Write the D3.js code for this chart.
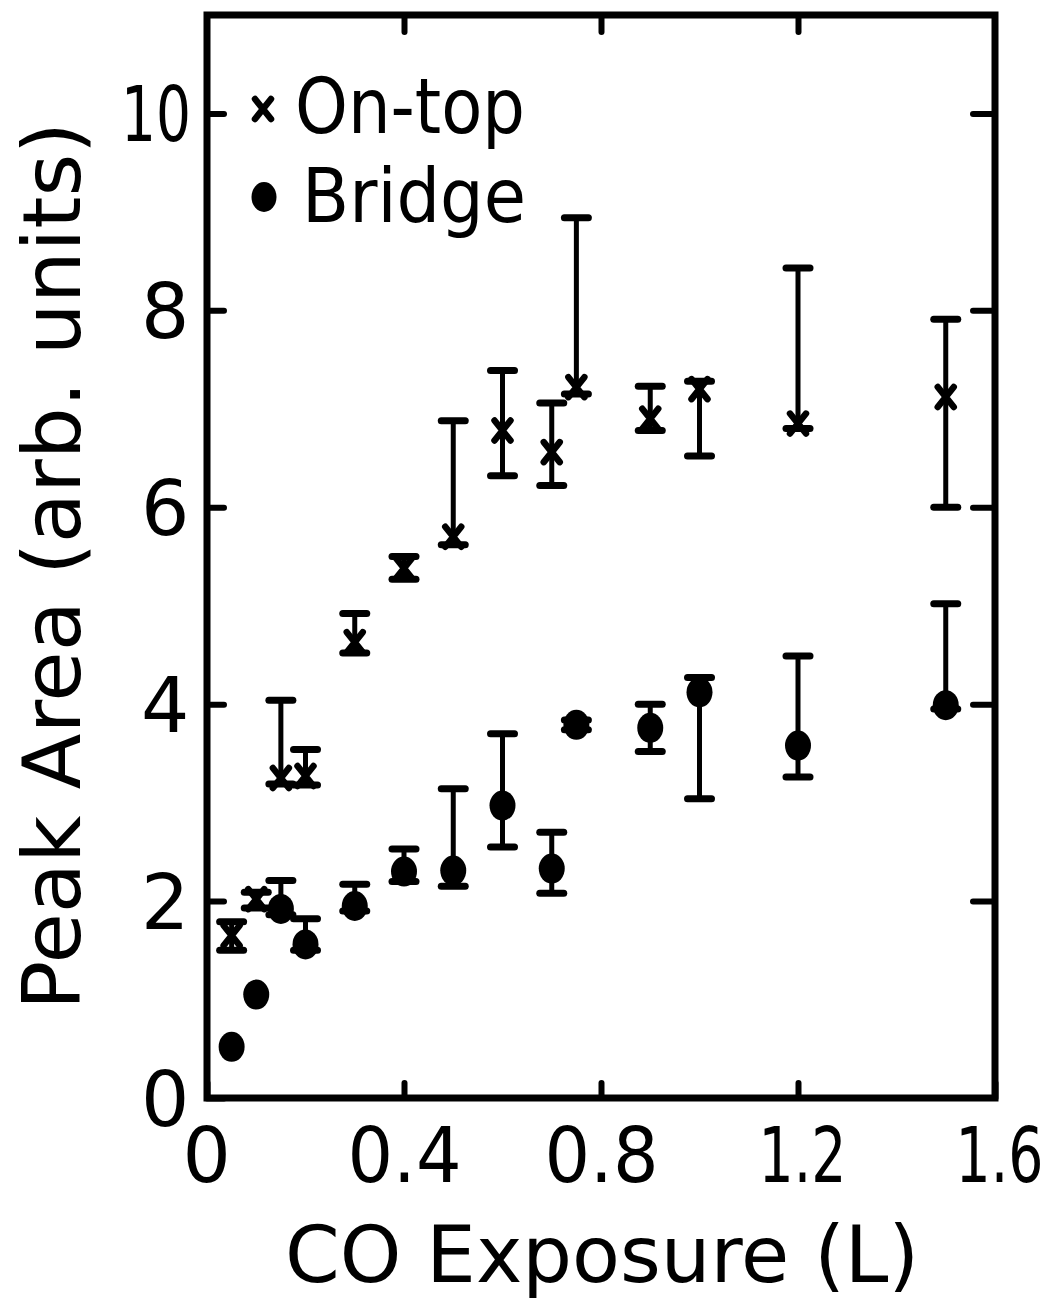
<!DOCTYPE html>
<html>
<head>
<meta charset="utf-8">
<script src="https://cdn.jsdelivr.net/npm/d3@7"></script>
<style>
  html, body { margin: 0; padding: 0; background: #fff; }
  svg { display: block; }
  text { font-family: "DejaVu Sans", "Liberation Sans", sans-serif; fill: #000; }
</style>
</head>
<body>
<svg id="chart" width="1053" height="1302"></svg>
<script>
// ---- data ----
const exposure = [0.05, 0.1, 0.15, 0.2, 0.3, 0.4, 0.5, 0.6, 0.7, 0.75, 0.9, 1.0, 1.2, 1.5];

const onTop   = [1.65, 2.02, 3.25, 3.27, 4.63, 5.38, 5.70, 6.78, 6.56, 7.22, 6.90, 7.20, 6.85, 7.12];
const onTopLo = [1.50, 1.93, 3.19, 3.18, 4.52, 5.27, 5.62, 6.32, 6.22, 7.15, 6.78, 6.52, 6.80, 6.00];
const onTopHi = [1.79, 2.09, 4.04, 3.54, 4.92, 5.50, 6.88, 7.39, 7.06, 8.94, 7.23, 7.28, 8.43, 7.91];

const bridge   = [0.52, 1.05, 1.92, 1.56, 1.95, 2.30, 2.31, 2.97, 2.33, 3.79, 3.76, 4.12, 3.58, 3.99];
const bridgeLo = [null, null, 1.86, 1.50, 1.90, 2.20, 2.15, 2.55, 2.08, 3.74, 3.52, 3.04, 3.26, 3.95];
const bridgeHi = [null, null, 2.21, 1.82, 2.17, 2.53, 3.14, 3.70, 2.70, 3.84, 4.00, 4.27, 4.49, 5.02];

const xTickValues = [0, 0.4, 0.8, 1.2, 1.6];
const xTickLabels = ["0", "0.4", "0.8", "1.2", "1.6"];
const yTickValues = [0, 2, 4, 6, 8, 10];
const yTickLabels = ["0", "2", "4", "6", "8", "10"];

const seriesNames = ["On-top", "Bridge"];
const xTitle = "CO Exposure (L)";
const yTitle = "Peak Area (arb. units)";

// ---- layout ----
const svg = d3.select("#chart");
const x = d3.scaleLinear().domain([0, 1.6]).range([207, 995]);
const y = d3.scaleLinear().domain([0, 11]).range([1098, 15]);

// narrow lettering: target width of each label
const labelWidth = s => {
  let w = 0;
  for (const c of s) w += (c === "1") ? 20 : (c === ".") ? 18 : 46;
  return w + 4;
};
const labelShift = s => (s.startsWith("1") ? 4 : 0);

// squeeze a text horizontally so that it spans `w` pixels starting at (x0, y0)
function squeeze(sel, x0fn, y0, wfn) {
  sel.each(function () {
    const t = d3.select(this);
    t.attr("text-anchor", "start").attr("x", 0).attr("y", 0).attr("dy", null);
    const nat = this.getComputedTextLength();
    const w = wfn(this.textContent);
    const s = Math.min(1, w / nat);
    t.attr("transform", `translate(${x0fn(this.textContent, w)},${y0}) scale(${s},1)`);
  });
}

// ---- axes (inward ticks) ----
const tickStyle = g => {
  g.select(".domain").remove();
  g.selectAll(".tick line").attr("stroke", "#000").attr("stroke-width", 6).attr("stroke-linecap", "round");
};

svg.append("g").attr("transform", `translate(${x(0)},0)`)
  .call(d3.axisLeft(y).tickValues(yTickValues).tickSize(-17).tickFormat((d, i) => yTickLabels[i]))
  .call(tickStyle)
  .call(g => {
    const t = g.selectAll(".tick text").attr("font-size", 76)
      .style("font-family", '"DejaVu Sans", sans-serif');
    squeeze(t, (s, w) => -16 - w, 27, labelWidth);
  });

svg.append("g").attr("transform", `translate(${x(1.6)},0)`)
  .call(d3.axisRight(y).tickValues([2, 4, 6, 8, 10]).tickSize(-22).tickFormat(""))
  .call(tickStyle);

svg.append("g").attr("transform", `translate(0,${y(0)})`)
  .call(d3.axisBottom(x).tickValues(xTickValues).tickSize(-15).tickFormat((d, i) => xTickLabels[i]))
  .call(tickStyle)
  .call(g => {
    const t = g.selectAll(".tick text").attr("font-size", 76)
      .style("font-family", '"DejaVu Sans", sans-serif');
    squeeze(t, (s, w) => labelShift(s) - w / 2, 84, labelWidth);
  });

svg.append("g").attr("transform", `translate(0,${y(11)})`)
  .call(d3.axisTop(x).tickValues([0.4, 0.8, 1.2]).tickSize(-17).tickFormat(""))
  .call(tickStyle);

// frame
svg.append("rect")
  .attr("x", x(0)).attr("y", y(11))
  .attr("width", x(1.6) - x(0)).attr("height", y(0) - y(11))
  .attr("fill", "none").attr("stroke", "#000").attr("stroke-width", 7);

// ---- error bars ----
function errorBars(vals, lo, hi) {
  const g = svg.append("g");
  exposure.forEach((ex, i) => {
    if (lo[i] == null || hi[i] == null) return;
    const cx = x(ex);
    g.append("line").attr("x1", cx).attr("x2", cx).attr("y1", y(lo[i])).attr("y2", y(hi[i]))
      .attr("stroke", "#000").attr("stroke-width", 5);
    [lo[i], hi[i]].forEach(v => {
      g.append("line").attr("x1", cx - 12).attr("x2", cx + 12).attr("y1", y(v)).attr("y2", y(v))
        .attr("stroke", "#000").attr("stroke-width", 7).attr("stroke-linecap", "round");
    });
  });
}
errorBars(onTop, onTopLo, onTopHi);
errorBars(bridge, bridgeLo, bridgeHi);

// ---- markers ----
function xMark(g, cx, cy) {
  g.append("path")
    .attr("d", `M${cx - 8},${cy - 10}L${cx + 8},${cy + 10}M${cx + 8},${cy - 10}L${cx - 8},${cy + 10}`)
    .attr("stroke", "#000").attr("stroke-width", 6.5).attr("stroke-linecap", "round").attr("fill", "none");
}
const mk = svg.append("g");
exposure.forEach((ex, i) => xMark(mk, x(ex), y(onTop[i])));
mk.selectAll("ellipse.bridge").data(exposure).join("ellipse").attr("class", "bridge")
  .attr("cx", d => x(d)).attr("cy", (d, i) => y(bridge[i]))
  .attr("rx", 13).attr("ry", 15).attr("fill", "#000");

// ---- legend ----
const lg = svg.append("g");
xMark(lg, 263, 109);
lg.append("text").attr("x", 295).attr("y", 133).attr("font-size", 76)
  .attr("textLength", 230).attr("lengthAdjust", "spacingAndGlyphs").text(seriesNames[0]);
lg.append("ellipse").attr("cx", 264).attr("cy", 197).attr("rx", 12.5).attr("ry", 15).attr("fill", "#000");
lg.append("text").attr("x", 302).attr("y", 222).attr("font-size", 74)
  .attr("textLength", 224).attr("lengthAdjust", "spacingAndGlyphs").text(seriesNames[1]);

// ---- axis titles ----
svg.append("text").attr("x", 285).attr("y", 1282).attr("font-size", 78)
  .attr("textLength", 634).attr("lengthAdjust", "spacingAndGlyphs").text(xTitle);

svg.append("text").attr("transform", "translate(80,1010) rotate(-90)")
  .attr("x", 0).attr("y", 0).attr("font-size", 80)
  .attr("textLength", 888).attr("lengthAdjust", "spacingAndGlyphs").text(yTitle);
</script>
</body>
</html>
